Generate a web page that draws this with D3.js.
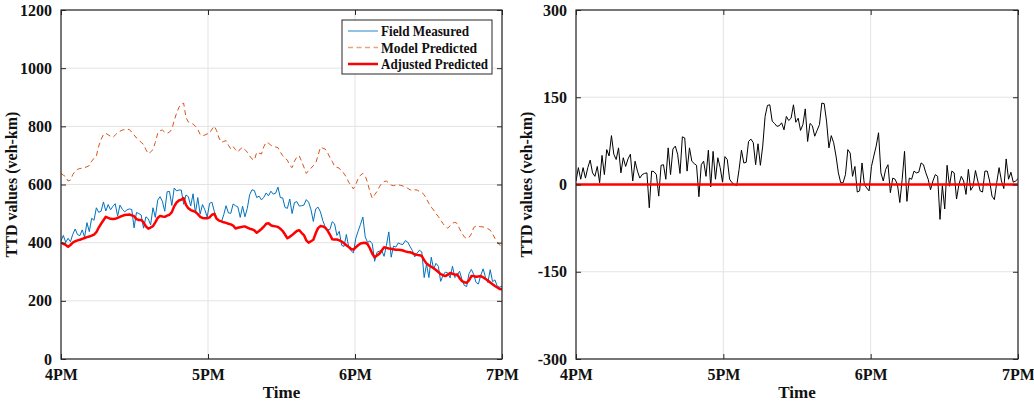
<!DOCTYPE html>
<html>
<head>
<meta charset="utf-8">
<script src="https://cdn.jsdelivr.net/npm/d3@7"></script>
<style>
  html, body { margin: 0; padding: 0; background: #fff; }
  svg text { font-family: "Liberation Serif", "Times New Roman", serif !important; font-weight: bold; fill: #111; }
</style>
</head>
<body>
<svg id="chart" width="1034" height="404"></svg>
<script>
// ---------------- DATA ----------------
const timeTickMinutes = [0, 60, 120, 180];
const timeTickLabels = ["4PM", "5PM", "6PM", "7PM"];
const leftYTicks = [0, 200, 400, 600, 800, 1000, 1200];
const rightYTicks = [-300, -150, 0, 150, 300];
const legendLabels = ["Field Measured", "Model Predicted", "Adjusted Predicted"];

const fieldMeasured = [406,425,401,415,403,429,447,428,424,444,419,469,438,484,477,520,504,508,540,509,
531,513,525,534,491,529,515,506,513,516,514,451,504,500,495,450,489,482,461,520,
487,546,558,542,508,575,576,528,588,578,581,581,532,564,558,526,568,502,555,498,
531,513,488,535,539,508,485,476,471,496,527,502,501,533,527,523,487,525,489,518,
565,582,579,555,560,547,556,571,561,577,567,570,591,555,554,521,518,550,500,538,
541,526,527,529,548,539,514,473,516,522,506,476,455,445,445,472,465,425,439,391,
387,428,385,372,365,415,440,463,488,420,401,406,396,336,367,371,373,353,391,437,
350,388,385,399,395,394,407,402,387,373,351,364,374,368,280,326,280,350,309,329,
319,267,288,299,296,279,319,280,288,302,274,253,249,293,308,291,263,258,288,310,
281,263,307,266,272,250,247,250];

const modelPredicted = [638,632,627,612,615,634,646,652,655,656,658,661,665,680,690,698,732,755,772,776,
771,766,762,770,778,783,787,789,790,789,780,770,760,753,745,738,720,706,712,720,
745,776,785,787,780,776,780,790,820,845,865,876,880,830,815,812,808,800,790,772,
768,770,774,776,790,801,785,760,745,748,751,735,722,730,720,711,722,728,720,711,
698,688,684,711,708,705,730,745,742,735,730,729,727,712,699,690,684,665,658,680,
694,699,680,660,638,648,656,665,673,700,728,725,722,710,693,680,662,659,656,645,
638,625,608,596,585,600,620,632,638,630,606,575,553,565,576,592,604,610,612,605,
598,596,598,599,597,595,592,587,582,579,582,581,576,572,565,550,535,522,512,500,
490,478,465,456,450,458,467,470,466,448,432,420,414,418,430,452,457,456,455,454,
452,448,443,430,415,402,392,388];

const adjustedPredicted = [400,396,392,386,392,400,405,408,410,413,416,419,421,424,428,436,452,465,477,489,
485,482,481,482,485,489,492,495,496,497,494,491,481,478,478,470,456,448,452,457,
470,485,492,490,489,493,496,505,525,538,545,548,553,530,518,512,509,506,498,489,
485,484,484,487,496,499,482,476,473,470,468,465,463,459,449,451,453,455,456,452,
448,446,442,434,440,447,455,465,467,460,457,456,454,448,440,428,415,420,426,433,
440,443,434,426,408,400,405,410,432,450,457,456,452,442,428,412,411,411,408,404,
398,391,385,378,376,384,391,397,399,400,395,380,362,350,356,362,373,384,382,380,
379,377,376,376,375,373,370,368,367,364,360,358,357,354,340,328,322,317,312,306,
299,292,288,285,290,296,293,290,291,278,268,264,262,270,285,285,283,284,285,281,
275,270,263,257,251,246,241,240];

const difference = [6,29,9,29,11,29,42,20,14,31,3,50,17,60,49,84,52,43,63,20,
46,31,44,52,6,40,23,11,17,19,20,-40,23,22,17,-20,33,34,9,63,
17,61,66,52,19,82,80,23,63,40,36,33,-21,34,40,14,59,-4,57,9,
46,29,4,48,43,9,3,0,-2,26,59,37,38,74,78,72,34,70,33,66,
117,136,137,109,105,100,101,106,94,117,110,114,137,107,114,93,103,130,74,105,
101,83,93,103,140,139,109,63,84,72,49,20,3,3,17,60,54,14,31,-13,
-11,37,0,-6,-11,31,49,66,89,20,6,26,34,-14,11,9,0,-31,9,57,
-29,11,9,23,20,21,37,34,20,9,-9,6,17,14,-60,-2,-42,33,-3,23,
20,-25,0,14,6,-17,26,-10,-3,24,6,-11,-13,23,23,6,-20,-26,3,29,
6,-7,44,9,21,4,6,10];

const zeroReference = [0, 0];

// ---------------- DRAWING ----------------
const svg = d3.select("#chart");
const nPts = fieldMeasured.length;
const minutes = d3.range(nPts).map(i => i * 180 / (nPts - 1));

const AXIS_COLOR = "#262626";
const GRID_COLOR = "#e3e3e3";
const FONT = '"Liberation Serif", "Times New Roman", serif';

function makePanel(opts) {
  const { left, right, top, bottom, yDomain, yTicks, clipId } = opts;
  const x = d3.scaleLinear().domain([0, 180]).range([left, right]);
  const y = d3.scaleLinear().domain(yDomain).range([bottom, top]);
  const g = svg.append("g");

  g.append("clipPath").attr("id", clipId)
    .append("rect").attr("x", left).attr("y", top)
    .attr("width", right - left).attr("height", bottom - top);

  const grid = g.append("g");
  grid.selectAll("line.vg").data(timeTickMinutes).enter().append("line")
    .attr("x1", d => x(d)).attr("x2", d => x(d))
    .attr("y1", top).attr("y2", bottom)
    .attr("stroke", GRID_COLOR).attr("stroke-width", 1);
  grid.selectAll("line.hg").data(yTicks).enter().append("line")
    .attr("x1", left).attr("x2", right)
    .attr("y1", d => y(d)).attr("y2", d => y(d))
    .attr("stroke", GRID_COLOR).attr("stroke-width", 1);

  const plot = g.append("g").attr("clip-path", `url(#${clipId})`);

  const yFmt = d => (d < 0 ? "-" : "") + Math.abs(d);
  const xAxisB = d3.axisBottom(x).tickValues(timeTickMinutes)
    .tickFormat((d, i) => timeTickLabels[i]).tickSizeInner(-5).tickSizeOuter(0).tickPadding(10);
  const xAxisT = d3.axisTop(x).tickValues(timeTickMinutes)
    .tickFormat("").tickSizeInner(-5).tickSizeOuter(0);
  const yAxisL = d3.axisLeft(y).tickValues(yTicks)
    .tickFormat(yFmt).tickSizeInner(-5).tickSizeOuter(0).tickPadding(9);
  const yAxisR = d3.axisRight(y).tickValues(yTicks)
    .tickFormat("").tickSizeInner(-5).tickSizeOuter(0);

  const axes = svg.append("g");
  function styleAxis(sel) {
    sel.attr("font-family", FONT);
    sel.select(".domain").remove();
    sel.selectAll(".tick line").attr("stroke", AXIS_COLOR).attr("stroke-width", 1);
    sel.selectAll(".tick text").style("font-family", FONT)
      .attr("font-weight", "bold").attr("font-size", 16).attr("fill", "#111");
  }
  axes.append("g").attr("transform", `translate(0,${bottom})`).call(xAxisB).call(styleAxis);
  axes.append("g").attr("transform", `translate(0,${top})`).call(xAxisT).call(styleAxis);
  axes.append("g").attr("transform", `translate(${left},0)`).call(yAxisL).call(styleAxis);
  axes.append("g").attr("transform", `translate(${right},0)`).call(yAxisR).call(styleAxis);
  axes.append("rect").attr("x", left).attr("y", top)
    .attr("width", right - left).attr("height", bottom - top)
    .attr("fill", "none").attr("stroke", AXIS_COLOR).attr("stroke-width", 1.2);

  axes.append("text").attr("x", (left + right) / 2).attr("y", 398)
    .attr("text-anchor", "middle").attr("font-size", 17).text("Time");
  axes.append("text")
    .attr("transform", `translate(${left - 44},${(top + bottom) / 2}) rotate(-90)`)
    .attr("text-anchor", "middle").attr("font-size", 16).text("TTD values (veh-km)");

  return { x, y, plot, axes };
}

// Left panel
const L = makePanel({ left: 61, right: 502, top: 10, bottom: 359, yDomain: [0, 1200], yTicks: leftYTicks, clipId: "clipL" });
const lineL = (arr) => d3.line().x((d, i) => L.x(minutes[i])).y(d => L.y(d))(arr);

L.plot.append("path").attr("d", lineL(modelPredicted))
  .attr("fill", "none").attr("stroke", "#D95319").attr("stroke-width", 1)
  .attr("stroke-dasharray", "5,3.5");
L.plot.append("path").attr("d", lineL(fieldMeasured))
  .attr("fill", "none").attr("stroke", "#0072BD").attr("stroke-width", 1);
L.plot.append("path").attr("d", lineL(adjustedPredicted))
  .attr("fill", "none").attr("stroke", "#FF0000").attr("stroke-width", 2.5)
  .attr("stroke-linejoin", "round");

// Legend
const legend = svg.append("g");
const legX = 342, legY = 20, legW = 150, legH = 54;
legend.append("rect").attr("x", legX).attr("y", legY).attr("width", legW).attr("height", legH)
  .attr("fill", "#fff").attr("stroke", AXIS_COLOR).attr("stroke-width", 1);
const legStyles = [
  { color: "#6BAEE0", width: 1.5, dash: null, len: 88 },
  { color: "#EBA080", width: 1.5, dash: "5,3.5", len: 96 },
  { color: "#FF0000", width: 2.5, dash: null, len: 107 }
];
legendLabels.forEach((lab, i) => {
  const yy = legY + 11 + i * 16.5;
  legend.append("line").attr("x1", legX + 6).attr("x2", legX + 36)
    .attr("y1", yy).attr("y2", yy)
    .attr("stroke", legStyles[i].color).attr("stroke-width", legStyles[i].width)
    .attr("stroke-dasharray", legStyles[i].dash);
  legend.append("text").attr("x", legX + 39).attr("y", yy + 5)
    .attr("font-size", 15)
    .attr("textLength", legStyles[i].len).attr("lengthAdjust", "spacingAndGlyphs")
    .text(lab);
});

// Right panel
const R = makePanel({ left: 576, right: 1018, top: 10, bottom: 359, yDomain: [-300, 300], yTicks: rightYTicks, clipId: "clipR" });
const lineR = d3.line().x((d, i) => R.x(minutes[i])).y(d => R.y(d));
R.plot.append("path").attr("d", lineR(difference))
  .attr("fill", "none").attr("stroke", "#000").attr("stroke-width", 1);
R.plot.append("path")
  .attr("d", d3.line().x((d, i) => R.x(i === 0 ? 0 : 180)).y(d => R.y(d))(zeroReference))
  .attr("fill", "none").attr("stroke", "#FF0000").attr("stroke-width", 2.5);
</script>
</body>
</html>
